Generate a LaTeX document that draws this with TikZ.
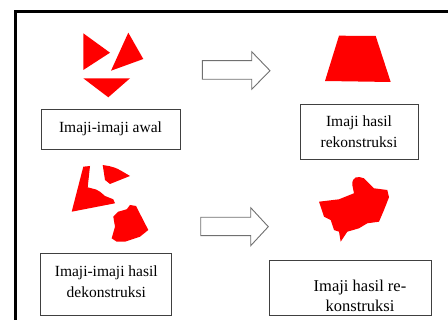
\documentclass[tikz,border=0pt]{standalone}
\usepackage{fontspec}
\setmainfont{Liberation Serif}
\definecolor{shapered}{HTML}{FF0000}
\definecolor{boxline}{HTML}{404040}
\definecolor{arrowline}{HTML}{707070}
\tikzset{
  boxonly/.style={draw=boxline, line width=0.9pt, fill=white, inner sep=0pt},
  labeltext/.style={align=center, font=\fontsize{15.5}{21}\selectfont, inner sep=0pt},
  redshape/.style={fill=shapered, draw=none},
  bigarrow/.style={draw=arrowline, line width=0.9pt, fill=white, line join=miter}
}
\begin{document}
\begin{tikzpicture}[x=1pt, y=-1pt]
\useasboundingbox (0,0) rectangle (448,320);
\clip (0,0) rectangle (448,320);
\fill[white] (0,0) rectangle (448,320);
% outer frame
\draw[line width=3pt, black] (15,12) rectangle (470,340);

% top row shapes
\fill[redshape] (83.3,33.3) -- (110,52.7) -- (83.3,70) -- cycle;
\fill[redshape] (128.3,32.7) -- (143.3,59) -- (111,70.7) -- cycle;
\fill[redshape] (83.3,78.3) -- (130,78.3) -- (108.3,97.3) -- cycle;

\fill[redshape] (339,35.7) -- (375.7,36) -- (390.7,82) -- (325,81) -- cycle;

% top arrow
\draw[bigarrow] (202.3,60.7) -- (251.7,60.7) -- (251.7,51.7) -- (270,70.7) -- (251.7,89.3) -- (251.7,79.3) -- (202.3,79.3) -- cycle;

% top labels
\node[boxonly, minimum width=139pt, minimum height=40pt] (awal) at (110.5,129) {};
\node[labeltext] (awaltext) at (awal.center) {Imaji-imaji awal};
\node[boxonly, minimum width=118pt, minimum height=55pt] (rekon) at (359,131.7) {};
\node[labeltext] (rekontext) at (rekon.center) {Imaji hasil\\rekonstruksi};

% bottom row shapes
\fill[redshape] (83.3,166.7) -- (90,166) -- (87.7,187.3) -- (96,189.5) -- (100,191.7) -- (105,196) -- (113.3,199.3) -- (115,203.3) -- (71.7,211.7) -- cycle;
\fill[redshape] (102.7,165) .. controls (115,167) .. (130,176) -- (110,184) -- (105,180) -- cycle;
\fill[redshape] (111.7,238.3) -- (115,226.7) -- (113.3,216.7) -- (118.3,211.7) -- (126.7,209.3) -- (130,205) -- (136,206) -- (148.3,230) -- (140,236.7) -- (125,241.7) -- (116.7,241.7) -- cycle;

\fill[redshape] (352.3,185) .. controls (352,176) and (358,176) .. (364,178.3) -- (374,188.3) -- (387.3,190) -- (389,197.3) -- (384,210) -- (379,221.7) -- (367.3,223.3) -- (359,228.3) -- (347.3,231.7) -- (340.7,241.7) -- (339,231.7) -- (334,230) -- (330.7,220) -- (324,216.7) -- (319,201.7) -- (339,199.3) -- (354,193.3) -- cycle;

% bottom arrow
\draw[bigarrow] (200.7,217.3) -- (250.7,217.3) -- (250.7,207.7) -- (268.3,226.7) -- (250.7,245.7) -- (250.7,235.7) -- (200.7,235.7) -- cycle;

% bottom labels
\node[boxonly, minimum width=131pt, minimum height=61.5pt] (dekon) at (106.3,284.5) {};
\node[labeltext] (dekontext) at (106.3,282) {Imaji-imaji hasil\\dekonstruksi};
\node[boxonly, minimum width=162pt, minimum height=55pt] (rerekon) at (350.2,287.5) {};
\node[labeltext, font=\fontsize{16.5}{19.5}\selectfont] (rerekontext) at (360,296) {Imaji hasil re-\\konstruksi};
\end{tikzpicture}
\end{document}
